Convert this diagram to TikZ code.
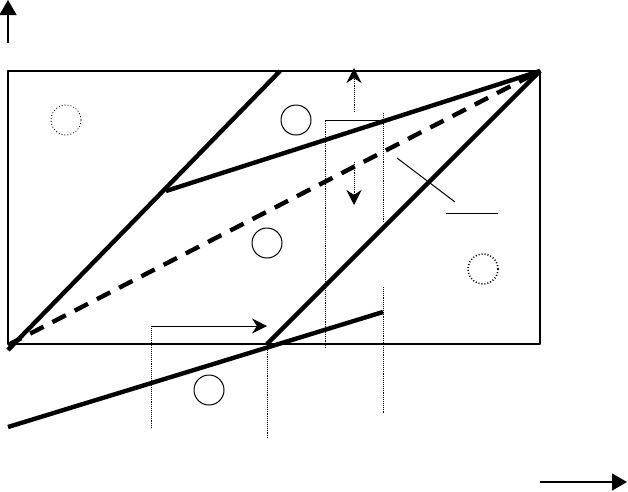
\documentclass[tikz,border=0pt]{standalone}
\usepackage{tikz}
\usetikzlibrary{arrows.meta}

\begin{document}
\begin{tikzpicture}[x=1pt, y=-1pt, line join=round,
        bold/.style = {line width=4.4pt},
        thin/.style = {line width=1pt},
        guide/.style = {densely dotted, line width=0.9pt},
        tip/.style = {-{Stealth[length=15pt, width=15pt]}},
        axis/.style = {line width=1.4pt, -{Triangle[length=15pt, width=17pt]}},
        ring/.style = {draw, circle, minimum size=30pt, inner sep=0pt, line width=1pt}]
    \useasboundingbox (0,0) rectangle (628,491);
    % frame and axes
    \draw[line width=1.4pt] (8,71) rectangle (540,344);
    \coordinate (y0) at (8,43);
    \coordinate (y1) at (8,0);
    \coordinate (x0) at (540,482);
    \coordinate (x1) at (627,482);
    \draw[axis] (y0) -- (y1);
    \draw[axis] (x0) -- (x1);
    % corners of the bold lines
    \coordinate (1) at (8,350);
    \coordinate (2) at (280,71);
    \coordinate (3) at (166,191);
    \coordinate (4) at (540,71);
    \coordinate (5) at (8,345);
    \coordinate (6) at (267,344);
    \coordinate (7) at (8,427);
    \coordinate (8) at (383,312);
    \draw[bold] (1) -- (2);
    \draw[bold] (3) -- (4);
    \draw[bold, dash pattern=on 15pt off 10pt] (5) -- (4);
    \draw[bold] (6) -- (4);
    \draw[bold] (7) -- (8);
    % circles
    \node[ring, dotted, line width=0.8pt] (c1) at (66,120) {};
    \node[ring] (c2) at (296,120) {};
    \node[ring] (c3) at (267,243) {};
    \node[ring, dotted, line width=1.6pt] (c4) at (483,269) {};
    \node[ring] (c5) at (209,390) {};
    % bracket at the bottom
    \coordinate (b1) at (151,428);
    \coordinate (b2) at (151,326);
    \coordinate (b3) at (267,326);
    \draw[guide] (b1) -- (b2);
    \draw[thin, tip] (b2) -- (b3);
    \coordinate (d1) at (267,346);
    \coordinate (d2) at (267,439);
    \draw[guide] (d1) -- (d2);
    % bracket at the top
    \coordinate (t1) at (325,348);
    \coordinate (t2) at (325,120);
    \coordinate (t3) at (383,120);
    \draw[guide] (t1) -- (t2);
    \draw[thin] (t2) -- (t3);
    \coordinate (r1) at (383,113);
    \coordinate (r2) at (383,223);
    \coordinate (r3) at (383,287);
    \coordinate (r4) at (383,414);
    \draw[guide] (r1) -- (r2);
    \draw[guide] (r3) -- (r4);
    % shift arrows
    \coordinate (u0) at (354,112);
    \coordinate (u1) at (354,68);
    \coordinate (w0) at (354,162);
    \coordinate (w1) at (354,205);
    \draw[guide, tip] (u0) -- (u1);
    \draw[guide, tip] (w0) -- (w1);
    % leader
    \coordinate (l1) at (397,158);
    \coordinate (l2) at (455,202);
    \coordinate (l3) at (446,213);
    \coordinate (l4) at (498,213);
    \draw[thin] (l1) -- (l2);
    \draw[thin] (l3) -- (l4);
\end{tikzpicture}
\end{document}
